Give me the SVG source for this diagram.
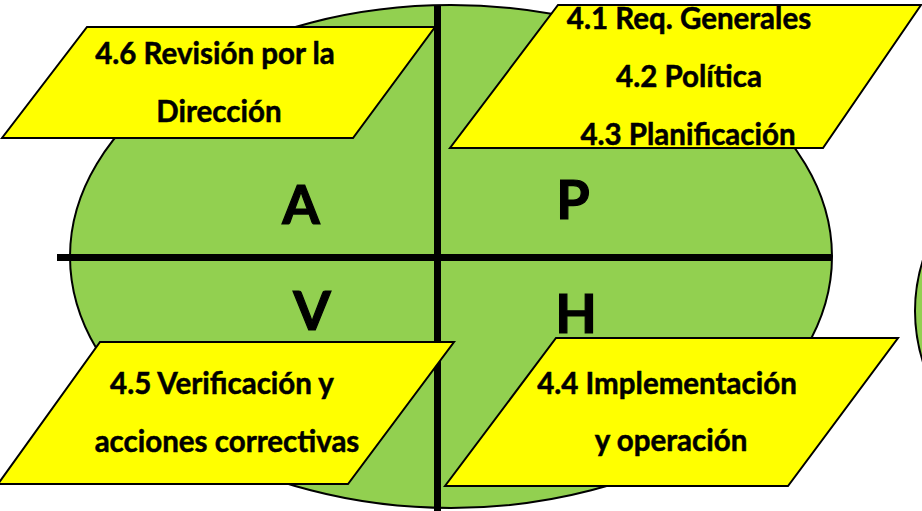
<svg xmlns="http://www.w3.org/2000/svg" width="922" height="511" viewBox="0 0 922 511">
<style>
.bg{fill:#92D050;stroke:#000;stroke-width:2}
.ax{stroke:#000;stroke-width:7;fill:none}
.box{fill:#FFFF00;stroke:#000;stroke-width:2;stroke-linejoin:miter}
.t{font-family:Lato,"Open Sans","Liberation Sans",sans-serif;font-weight:bold;font-size:29.5px;fill:#000;stroke:#000;stroke-width:0.5;text-anchor:middle}
.big{font-family:Lato,"Open Sans","Liberation Sans",sans-serif;font-weight:bold;font-size:54px;fill:#000;stroke:#000;stroke-width:1.2;text-anchor:middle}
</style>
<rect width="922" height="511" fill="#fff"/>
<g id="cycle">
<ellipse class="bg" cx="451" cy="256.5" rx="381" ry="251.5"/>
<ellipse class="bg" cx="1297" cy="311" rx="382" ry="251"/>
</g>
<g id="connectors">
<line class="ax" x1="437.5" y1="5" x2="437.5" y2="511"/>
<line class="ax" x1="57" y1="257.5" x2="832" y2="257.5"/>
</g>
<g id="letters">
<text class="big" x="301" y="224">A</text>
<text class="big" x="573" y="219">P</text>
<text class="big" x="312" y="330">V</text>
<text class="big" x="576" y="333">H</text>
</g>
<g id="n46">
<polygon class="box" points="87,27 435,27 353,138 2,138"/>
<text class="t" x="215" y="64">4.6 Revisión por la</text>
<text class="t" x="219" y="122">Dirección</text>
</g>
<g id="n41">
<polygon class="box" points="558,5 921,5 823,148 450,148"/>
<text class="t" x="689" y="29">4.1 Req. Generales</text>
<text class="t" x="689" y="87">4.2 Política</text>
<text class="t" x="688" y="145">4.3 Planificación</text>
</g>
<g id="n45">
<polygon class="box" points="100,342 454,342 348,484 -2,484"/>
<text class="t" x="222" y="394">4.5 Verificación y</text>
<text class="t" x="227" y="452">acciones correctivas</text>
</g>
<g id="n44">
<polygon class="box" points="556,338 898,338 788,486 445,486"/>
<text class="t" x="667" y="394">4.4 Implementación</text>
<text class="t" x="671" y="451">y operación</text>
</g>
</svg>
